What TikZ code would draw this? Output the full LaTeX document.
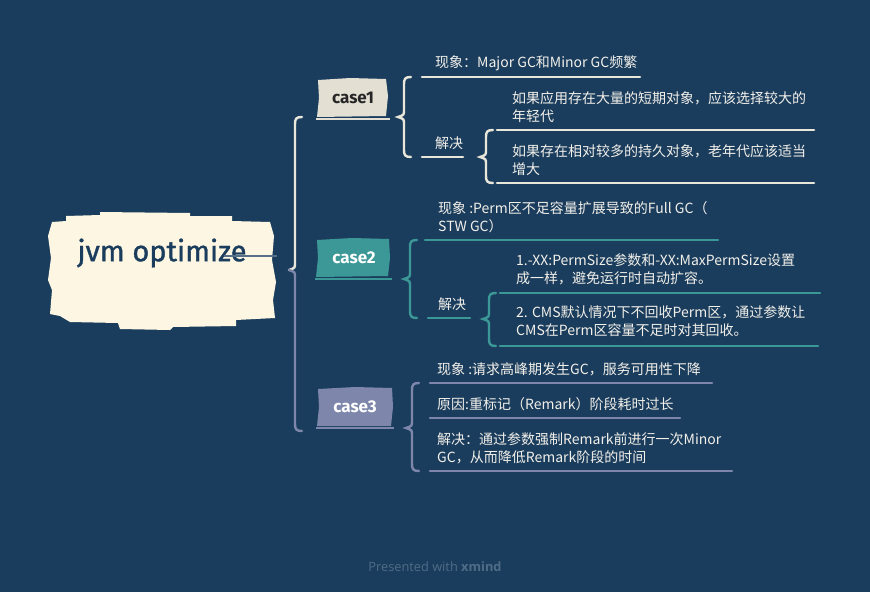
\documentclass[tikz,border=0pt]{standalone}
\usepackage{fontspec}
\setmainfont{Fira Sans}
\newfontfamily\cjkfont{Noto Sans CJK SC}
\newfontfamily\footfont{Open Sans}
\newfontfamily\rootfont[FakeBold=1.2]{Fira Sans}
\definecolor{bg}{HTML}{1B3D5D}
\definecolor{creamline}{HTML}{E9E6DA}
\definecolor{caseone}{HTML}{E3E0D3}
\definecolor{teal}{HTML}{3C9897}
\definecolor{slate}{HTML}{7E87AB}
\definecolor{rootfill}{HTML}{FCF6E2}
\definecolor{txt}{HTML}{F2F0EA}
\definecolor{footc}{HTML}{4F6C87}
\definecolor{rootln}{HTML}{56708A}
\newcommand\mybrace[5]{%
  \draw[brace,#5] (#1+7,#2) .. controls (#1+1,#2) and (#1,#2+2) .. (#1,#2+7)
    -- (#1,#4-7) .. controls (#1,#4-2) .. (#1-6,#4)
    .. controls (#1,#4+2) .. (#1,#4+7) -- (#1,#3-7)
    .. controls (#1,#3-2) and (#1+1,#3) .. (#1+7,#3);}
\tikzset{
  brace/.style={line width=2.4pt,line cap=round},
  uline/.style={line width=2.6pt,line cap=round},
  detail/.style={anchor=west,inner sep=0pt,text=txt,align=left,
    font=\cjkfont\fontsize{14}{18}\selectfont},
  casetxt/.style={inner sep=0pt,font=\bfseries\fontsize{17}{20}\selectfont},
}
\begin{document}
\begin{tikzpicture}[x=1pt,y=-1pt]
\fill[bg] (0,0) rectangle (870,592);
\useasboundingbox (0,0) rectangle (870,592);

% root shape
\fill[rootfill] (52,222) -- (66,221) -- (66,216) -- (100,215) -- (100,212) -- (190,213)
  -- (190,216) -- (232,216) -- (232,221) -- (270,222) -- (274,236) -- (272,260)
  -- (276,282) -- (273,300) -- (275,318) -- (236,320) -- (236,326) -- (173,327)
  -- (170,330) -- (120,329) -- (118,323) -- (70,322) -- (60,316) -- (50,314)
  -- (52,290) -- (48,280) -- (51,258) -- (48,236) -- cycle;
\node[inner sep=0pt,text=bg,font=\rootfont\fontsize{29}{32}\selectfont] (root) at (162,253) {jvm optimize};
\coordinate (rootA) at (224,256);
\coordinate (rootB) at (277,256);
\draw[rootln,line width=1.2pt] (rootA) -- (rootB);

% main brace
\coordinate (mainCusp) at (289,270);
\draw[brace,creamline] (302,117) .. controls (296,117) and (295,119) .. (295,124)
  -- (295,263) .. controls (295,268) .. (mainCusp);
\draw[brace,slate] (mainCusp) .. controls (295,272) .. (295,277)
  -- (295,424) .. controls (295,429) and (296,431) .. (302,431);

% case boxes
\fill[caseone] (318,80) -- (350,78) -- (386,79) -- (388,96) -- (386,116) -- (317,117) -- (319,98) -- cycle;
\draw[caseone,line width=1.6pt] (316,119) -- (390,119);
\node[casetxt,text=black!85] (case1) at (353,98) {case1};

\fill[teal] (317,240) -- (352,238) -- (389,239) -- (390,258) -- (388,276) -- (316,277) -- (318,258) -- cycle;
\draw[teal,line width=1.6pt] (315,279) -- (392,279);
\node[casetxt,text=white] (case2) at (354,258) {case2};

\fill[slate] (318,389) -- (355,387) -- (392,388) -- (393,407) -- (391,426) -- (317,426) -- (319,407) -- cycle;
\draw[slate,line width=1.6pt] (316,428) -- (394,428);
\node[casetxt,text=white] (case3) at (355,407) {case3};

% ---- case1 branch
\mybrace{404}{77}{157}{117}{creamline}
\node[detail] (c1a) at (435,63) {现象：Major GC和Minor GC频繁};
\coordinate (c1aL) at (422,77); \coordinate (c1aR) at (640,77);
\draw[uline,creamline] (c1aL) -- (c1aR);
\node[detail] (c1b) at (435,143) {解决};
\coordinate (c1bL) at (422,157); \coordinate (c1bR) at (463,157);
\draw[uline,creamline] (c1bL) -- (c1bR);
\mybrace{486}{130}{183}{157}{creamline}
\node[detail] (c1c) at (512,107) {如果应用存在大量的短期对象，应该选择较大的\\年轻代};
\coordinate (c1cL) at (497,130); \coordinate (c1cR) at (814,130);
\draw[uline,creamline] (c1cL) -- (c1cR);
\node[detail] (c1d) at (512,160) {如果存在相对较多的持久对象，老年代应该适当\\增大};
\coordinate (c1dL) at (497,183); \coordinate (c1dR) at (814,183);
\draw[uline,creamline] (c1dL) -- (c1dR);

% ---- case2 branch
\mybrace{410}{240}{318}{279}{teal}
\node[detail] (c2a) at (438,217) {现象 :Perm区不足容量扩展导致的Full GC（\\STW GC）};
\coordinate (c2aL) at (425,240); \coordinate (c2aR) at (718,240);
\draw[uline,teal] (c2aL) -- (c2aR);
\node[detail] (c2b) at (438,304) {解决};
\coordinate (c2bL) at (428,318); \coordinate (c2bR) at (470,318);
\draw[uline,teal] (c2bL) -- (c2bR);
\mybrace{489}{293}{346}{319}{teal}
\node[detail] (c2c) at (516,269.5) {1.-XX:PermSize参数和-XX:MaxPermSize设置\\成一样，避免运行时自动扩容。};
\coordinate (c2cL) at (500,293); \coordinate (c2cR) at (820,293);
\draw[uline,teal] (c2cL) -- (c2cR);
\node[detail] (c2d) at (516,321.5) {2. CMS默认情况下不回收Perm区，通过参数让\\CMS在Perm区容量不足时对其回收。};
\coordinate (c2dL) at (500,346); \coordinate (c2dR) at (818,346);
\draw[uline,teal] (c2dL) -- (c2dR);

% ---- case3 branch
\mybrace{412}{383}{471}{428}{slate}
\node[detail] (c3a) at (437,369) {现象 :请求高峰期发生GC，服务可用性下降};
\coordinate (c3aL) at (430,383); \coordinate (c3aR) at (712,383);
\draw[uline,slate] (c3aL) -- (c3aR);
\node[detail] (c3b) at (437,404) {原因:重标记（Remark）阶段耗时过长};
\coordinate (c3bL) at (430,418); \coordinate (c3bR) at (680,418);
\draw[uline,slate] (c3bL) -- (c3bR);
\node[detail] (c3c) at (437,448) {解决：通过参数强制Remark前进行一次Minor\\GC，从而降低Remark阶段的时间};
\coordinate (c3cL) at (430,471); \coordinate (c3cR) at (732,471);
\draw[uline,slate] (c3cL) -- (c3cR);

% footer
\node[text=footc,inner sep=0pt,font=\footfont\fontsize{12.8}{14}\selectfont] (foot) at (435,567) {Presented with \textbf{xmind}};
\end{tikzpicture}
\end{document}
